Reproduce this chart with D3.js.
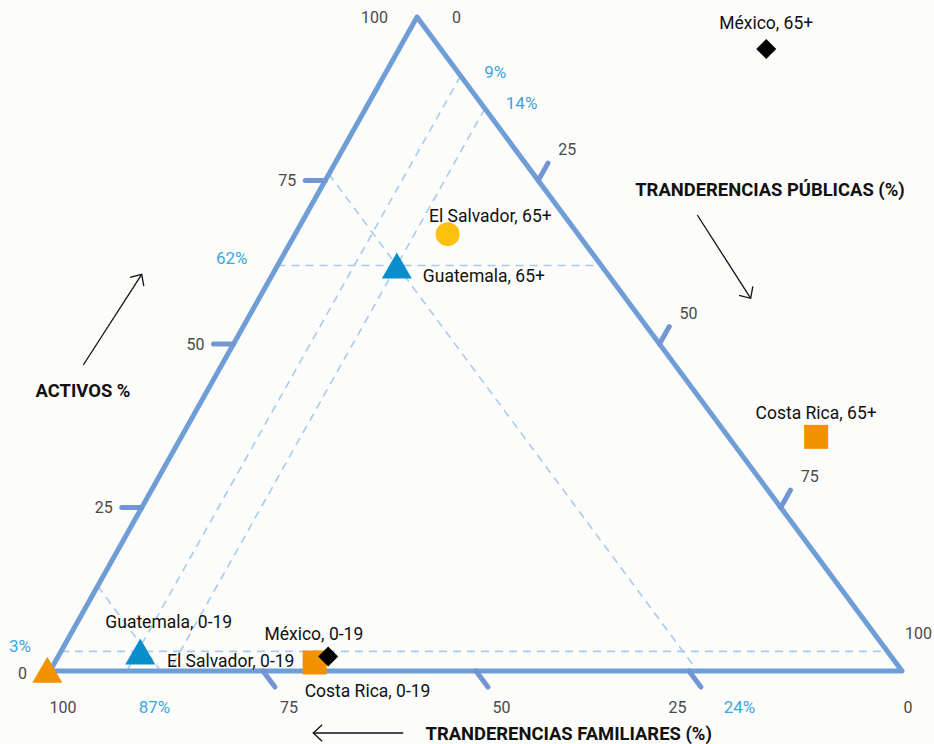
<!DOCTYPE html>
<html>
<head>
<meta charset="utf-8">
<script src="https://cdn.jsdelivr.net/npm/d3@7"></script>
<style>
  html, body { margin: 0; padding: 0; background: #fcfcfa; }
  svg { display: block; font-family: Roboto, "Noto Sans", sans-serif; }
</style>
</head>
<body>
<svg id="chart" width="934" height="744"></svg>
<script>
// ---------------- DATA ----------------
const pointNames = ["México, 65+", "El Salvador, 65+", "Guatemala, 65+", "Costa Rica, 65+",
                    "Guatemala, 0-19", "El Salvador, 0-19", "México, 0-19", "Costa Rica, 0-19"];
const activos    = [95.1, 66.8, 62.0, 35.8, 3.0, 0.2, 2.2, 1.3];     // % activos
const publicas   = [43.1, 17.9, 14.0, 74.5, 9.3, -0.4, 31.7, 30.5];  // % transferencias públicas
const familiares = [-38.2, 15.3, 24.0, -10.3, 87.7, 100.2, 66.1, 68.2]; // % transferencias familiares

const tickValues = [0, 25, 50, 75, 100];
const guideActivos = [62, 3];
const guidePublicas = [9, 14];
const guideFamiliares = [24, 87];

const titleActivos = "ACTIVOS %";
const titlePublicas = "TRANDERENCIAS PÚBLICAS (%)";
const titleFamiliares = "TRANDERENCIAS FAMILIARES (%)";

// ---------------- LAYOUT ----------------
const L = [50, 671], R = [902, 671], T = [417, 17];
const svg = d3.select("#chart");

// scales: fraction along each edge
const aX = d3.scaleLinear().domain([0, 100]).range([0, T[0] - L[0]]);
const aY = d3.scaleLinear().domain([0, 100]).range([0, T[1] - L[1]]);
const pX = d3.scaleLinear().domain([0, 100]).range([0, R[0] - L[0]]);
const pY = d3.scaleLinear().domain([0, 100]).range([0, R[1] - L[1]]);
function proj(a, p) { return [L[0] + aX(a) + pX(p), L[1] + aY(a) + pY(p)]; }

const frameColor = "#6f9ed6";
const tickColor = "#7395d3";
const guideColor = "#a9caf0";
const pctColor = "#3ea6dd";
const numColor = "#4a4a4a";

// guide dashed lines
const guideG = svg.append("g").attr("fill", "none").attr("stroke", guideColor)
  .attr("stroke-width", 1.6).attr("stroke-dasharray", "8,6");
guideActivos.forEach(a => {
  const p1 = proj(a, 0), p2 = proj(a, 100 - a);
  guideG.append("line").attr("x1", p1[0]).attr("y1", p1[1]).attr("x2", p2[0]).attr("y2", p2[1]);
});
guidePublicas.forEach(p => {
  const p1 = proj(100 - p, p), p2 = proj(0, p);
  guideG.append("line").attr("x1", p1[0]).attr("y1", p1[1]).attr("x2", p2[0]).attr("y2", p2[1]);
});
guideFamiliares.forEach(f => {
  const p1 = proj(100 - f, 0), p2 = proj(0, 100 - f);
  guideG.append("line").attr("x1", p1[0]).attr("y1", p1[1]).attr("x2", p2[0]).attr("y2", p2[1]);
});

// frame
svg.append("path")
  .attr("d", d3.line()([proj(0, 0), proj(100, 0), proj(0, 100)]) + "Z")
  .attr("fill", "none").attr("stroke", frameColor).attr("stroke-width", 5)
  .attr("stroke-linejoin", "round");

// tick marks
const tickLen = 20;
const norm = v => { const l = Math.hypot(v[0], v[1]); return [v[0] / l, v[1] / l]; };
const dirLeft = [-1, 0];
const dirRight = norm([T[0] - L[0], T[1] - L[1]]);
const dirBottom = norm([R[0] - T[0], R[1] - T[1]]);
const tickG = svg.append("g").attr("stroke", tickColor).attr("stroke-width", 5).attr("stroke-linecap", "round");
tickValues.filter(v => v > 0 && v < 100).forEach(v => {
  const pl = proj(v, 0), pr = proj(100 - v, v), pb = proj(0, 100 - v);
  [[pl, dirLeft], [pr, dirRight], [pb, dirBottom]].forEach(([pt, d]) => {
    tickG.append("line").attr("x1", pt[0]).attr("y1", pt[1])
      .attr("x2", pt[0] + d[0] * tickLen).attr("y2", pt[1] + d[1] * tickLen);
  });
});

// tick labels
const numG = svg.append("g").attr("fill", numColor).attr("font-size", 16);
const leftTweak = { 0: [6, 2], 25: [0, 0], 50: [0, 0], 75: [0, 0], 100: [0, 0] };
tickValues.forEach(v => {
  const pt = proj(v, 0);
  const tw = leftTweak[v];
  numG.append("text").attr("x", pt[0] - 29 + tw[0]).attr("y", pt[1] + tw[1]).attr("dy", "0.35em")
    .attr("text-anchor", "end").text(v);
});
const rightOff = { 0: [35, 0], 25: [20, -31], 50: [20, -31], 75: [20, -31], 100: [3, -38] };
tickValues.forEach(v => {
  const pt = proj(100 - v, v);
  numG.append("text").attr("x", pt[0] + rightOff[v][0]).attr("y", pt[1] + rightOff[v][1]).attr("dy", "0.35em")
    .attr("text-anchor", "start").text(v);
});
const bottomOff = { 0: 6, 25: -11.5, 50: 25.5, 75: 26, 100: 13 };
tickValues.forEach(v => {
  const pt = proj(0, 100 - v);
  numG.append("text").attr("x", pt[0] + bottomOff[v]).attr("y", pt[1] + 36).attr("dy", "0.35em")
    .attr("text-anchor", "middle").text(v);
});

// guide percent labels
const pctG = svg.append("g").attr("fill", pctColor).attr("font-size", 17);
const aOff = { 62: [-30, -7], 3: [-30, -5] };
guideActivos.forEach(a => {
  const pt = proj(a, 0);
  pctG.append("text").attr("x", pt[0] + aOff[a][0]).attr("y", pt[1] + aOff[a][1]).attr("dy", "0.35em")
    .attr("text-anchor", "end").text(a + "%");
});
const pOff = { 9: [34.5, -4.2], 14: [36.7, -6] };
guidePublicas.forEach(p => {
  const pt = proj(100 - p, p);
  pctG.append("text").attr("x", pt[0] + pOff[p][0]).attr("y", pt[1] + pOff[p][1]).attr("dy", "0.35em")
    .attr("text-anchor", "middle").text(p + "%");
});
const fOff = { 24: 42, 87: -6.3 };
guideFamiliares.forEach(f => {
  const pt = proj(0, 100 - f);
  pctG.append("text").attr("x", pt[0] + fOff[f]).attr("y", pt[1] + 36).attr("dy", "0.35em")
    .attr("text-anchor", "middle").text(f + "%");
});

// markers
const markerStyle = {
  "México, 65+": ["diamond", "#000"], "México, 0-19": ["diamond", "#000"],
  "El Salvador, 65+": ["circle", "#fcc10f"], "El Salvador, 0-19": ["triangle", "#f39200"],
  "Guatemala, 65+": ["triangle", "#0a8ecb"], "Guatemala, 0-19": ["triangle", "#0a8ecb"],
  "Costa Rica, 65+": ["square", "#f39200"], "Costa Rica, 0-19": ["square", "#f39200"]
};
const shapePath = {
  triangle: "M0,-13L15,13L-15,13Z",
  square: "M-12,-12H12V12H-12Z",
  diamond: "M0,-10L10,0L0,10L-10,0Z",
  circle: d3.symbol(d3.symbolCircle, Math.PI * 144)()
};
const labelPos = {
  "México, 65+": ["middle", 0, -26],
  "El Salvador, 65+": ["start", -18.7, -18.3],
  "Guatemala, 65+": ["start", 26, 10.5],
  "Costa Rica, 65+": ["middle", 0, -23.7],
  "Guatemala, 0-19": ["middle", 28.5, -29.7],
  "El Salvador, 0-19": ["start", 119.7, -9.3],
  "México, 0-19": ["middle", -14.3, -22.4],
  "Costa Rica, 0-19": ["start", -10, 27.9]
};
const pts = pointNames.map((n, i) => ({ name: n, pos: proj(activos[i], publicas[i]) }));
const drawOrder = [4, 5, 1, 2, 7, 6, 3, 0];
const markG = svg.append("g");
drawOrder.forEach(i => {
  const d = pts[i], st = markerStyle[d.name];
  markG.append("path").attr("d", shapePath[st[0]]).attr("fill", st[1])
    .attr("transform", `translate(${d.pos[0]},${d.pos[1]})`);
});
const labG = svg.append("g").attr("fill", "#111").attr("font-size", 17.5);
pts.forEach(d => {
  const lp = labelPos[d.name];
  labG.append("text").attr("x", d.pos[0] + lp[1]).attr("y", d.pos[1] + lp[2]).attr("dy", "0.35em")
    .attr("text-anchor", lp[0]).text(d.name);
});

// axis titles and arrows
const titleG = svg.append("g").attr("fill", "#111").attr("font-size", 18.4).attr("font-weight", "bold");
titleG.append("text").attr("x", 83).attr("y", 391).attr("dy", "0.35em").attr("text-anchor", "middle").text(titleActivos);
titleG.append("text").attr("x", 770).attr("y", 190).attr("dy", "0.35em").attr("text-anchor", "middle").text(titlePublicas);
titleG.append("text").attr("x", 568.7).attr("y", 733.5).attr("dy", "0.35em").attr("text-anchor", "middle").text(titleFamiliares);

const arrows = [[[83.3, 365], [141.7, 274.3]], [[697.3, 215], [750.7, 298.3]], [[403.3, 733], [313.3, 733]]];
const arrowG = svg.append("g").attr("stroke", "#111").attr("stroke-width", 1.3).attr("fill", "none");
arrows.forEach(([s, e]) => {
  arrowG.append("line").attr("x1", s[0]).attr("y1", s[1]).attr("x2", e[0]).attr("y2", e[1]);
  const ang = Math.atan2(e[1] - s[1], e[0] - s[0]);
  const hl = 12, ha = Math.PI / 4.2;
  const a1 = [e[0] - hl * Math.cos(ang - ha), e[1] - hl * Math.sin(ang - ha)];
  const a2 = [e[0] - hl * Math.cos(ang + ha), e[1] - hl * Math.sin(ang + ha)];
  arrowG.append("path").attr("d", d3.line()([a1, e, a2]));
});
</script>
</body>
</html>
